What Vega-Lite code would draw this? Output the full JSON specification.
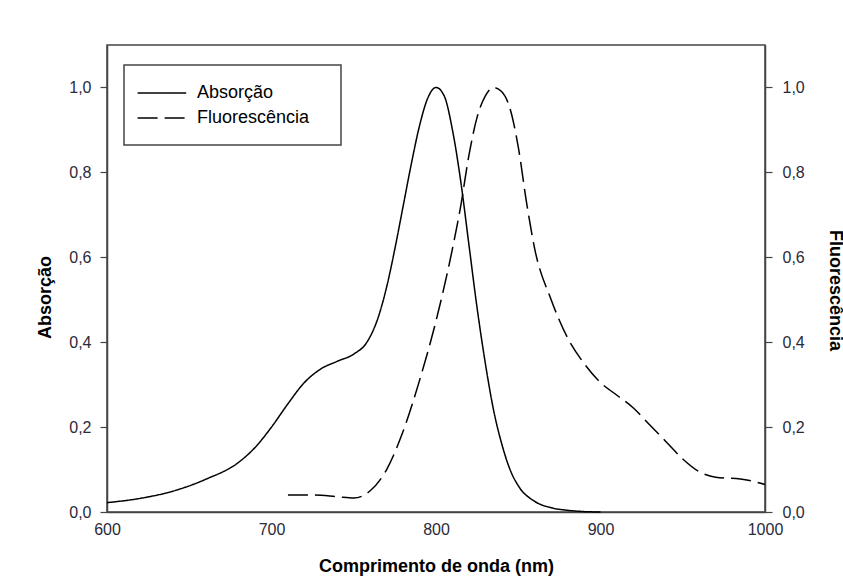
{
  "$schema": "https://vega.github.io/schema/vega-lite/v6.json",
  "autosize": {"type": "none"},
  "padding": {"left": 107, "top": 45, "right": 78, "bottom": 66},
  "width": 658,
  "height": 467,
  "background": "white",
  "config": {
    "font": "Liberation Sans",
    "view": {"stroke": "#444", "strokeWidth": 1.5},
    "axis": {
      "grid": false,
      "domainColor": "#444",
      "domainWidth": 1.5,
      "tickColor": "#444",
      "tickWidth": 1.2,
      "tickSize": 7,
      "labelFont": "Liberation Sans",
      "labelFontSize": 16,
      "labelColor": "#2a2a3a",
      "labelFlush": false,
      "titleFont": "Liberation Sans",
      "titleFontSize": 18,
      "titleFontWeight": "bold",
      "titleColor": "#000"
    },
    "legend": {
      "orient": "none",
      "legendX": 17,
      "legendY": 20,
      "strokeColor": "#444",
      "strokeWidth": 1.5,
      "padding": 18,
      "symbolType": "M-1.6,0H3.8",
      "symbolSize": 324,
      "symbolStrokeWidth": 1.5,
      "symbolStrokeColor": "#000",
      "symbolFillColor": "transparent",
      "labelFont": "Liberation Sans",
      "labelFontSize": 18,
      "labelColor": "#000",
      "labelOffset": 35,
      "rowPadding": 6,
      "titleOrient": "right",
      "titlePadding": 14,
      "titleFontSize": 2
    }
  },
  "datasets": {
    "abs": [
      {"nm": 600, "v": 0.022, "series": "Absorção"},
      {"nm": 620, "v": 0.032, "series": "Absorção"},
      {"nm": 640, "v": 0.049, "series": "Absorção"},
      {"nm": 660, "v": 0.077, "series": "Absorção"},
      {"nm": 680, "v": 0.117, "series": "Absorção"},
      {"nm": 690, "v": 0.152, "series": "Absorção"},
      {"nm": 700, "v": 0.2, "series": "Absorção"},
      {"nm": 710, "v": 0.255, "series": "Absorção"},
      {"nm": 720, "v": 0.305, "series": "Absorção"},
      {"nm": 730, "v": 0.337, "series": "Absorção"},
      {"nm": 740, "v": 0.355, "series": "Absorção"},
      {"nm": 750, "v": 0.372, "series": "Absorção"},
      {"nm": 758, "v": 0.4, "series": "Absorção"},
      {"nm": 765, "v": 0.46, "series": "Absorção"},
      {"nm": 770, "v": 0.53, "series": "Absorção"},
      {"nm": 775, "v": 0.62, "series": "Absorção"},
      {"nm": 780, "v": 0.72, "series": "Absorção"},
      {"nm": 785, "v": 0.82, "series": "Absorção"},
      {"nm": 790, "v": 0.91, "series": "Absorção"},
      {"nm": 795, "v": 0.975, "series": "Absorção"},
      {"nm": 800, "v": 1.0, "series": "Absorção"},
      {"nm": 805, "v": 0.98, "series": "Absorção"},
      {"nm": 810, "v": 0.9, "series": "Absorção"},
      {"nm": 815, "v": 0.78, "series": "Absorção"},
      {"nm": 820, "v": 0.63, "series": "Absorção"},
      {"nm": 825, "v": 0.48, "series": "Absorção"},
      {"nm": 830, "v": 0.35, "series": "Absorção"},
      {"nm": 835, "v": 0.24, "series": "Absorção"},
      {"nm": 840, "v": 0.16, "series": "Absorção"},
      {"nm": 845, "v": 0.1, "series": "Absorção"},
      {"nm": 850, "v": 0.062, "series": "Absorção"},
      {"nm": 860, "v": 0.025, "series": "Absorção"},
      {"nm": 870, "v": 0.01, "series": "Absorção"},
      {"nm": 880, "v": 0.004, "series": "Absorção"},
      {"nm": 890, "v": 0.001, "series": "Absorção"},
      {"nm": 900, "v": 0.0, "series": "Absorção"}
    ],
    "flu": [
      {"nm": 710, "v": 0.04, "series": "Fluorescência"},
      {"nm": 725, "v": 0.04, "series": "Fluorescência"},
      {"nm": 740, "v": 0.036, "series": "Fluorescência"},
      {"nm": 750, "v": 0.033, "series": "Fluorescência"},
      {"nm": 760, "v": 0.05, "series": "Fluorescência"},
      {"nm": 770, "v": 0.1, "series": "Fluorescência"},
      {"nm": 780, "v": 0.19, "series": "Fluorescência"},
      {"nm": 790, "v": 0.31, "series": "Fluorescência"},
      {"nm": 800, "v": 0.45, "series": "Fluorescência"},
      {"nm": 810, "v": 0.62, "series": "Fluorescência"},
      {"nm": 815, "v": 0.72, "series": "Fluorescência"},
      {"nm": 820, "v": 0.84, "series": "Fluorescência"},
      {"nm": 825, "v": 0.93, "series": "Fluorescência"},
      {"nm": 830, "v": 0.98, "series": "Fluorescência"},
      {"nm": 835, "v": 1.0, "series": "Fluorescência"},
      {"nm": 840, "v": 0.99, "series": "Fluorescência"},
      {"nm": 845, "v": 0.95, "series": "Fluorescência"},
      {"nm": 850, "v": 0.86, "series": "Fluorescência"},
      {"nm": 855, "v": 0.73, "series": "Fluorescência"},
      {"nm": 860, "v": 0.62, "series": "Fluorescência"},
      {"nm": 870, "v": 0.5, "series": "Fluorescência"},
      {"nm": 880, "v": 0.41, "series": "Fluorescência"},
      {"nm": 890, "v": 0.35, "series": "Fluorescência"},
      {"nm": 900, "v": 0.305, "series": "Fluorescência"},
      {"nm": 910, "v": 0.275, "series": "Fluorescência"},
      {"nm": 920, "v": 0.245, "series": "Fluorescência"},
      {"nm": 930, "v": 0.205, "series": "Fluorescência"},
      {"nm": 940, "v": 0.165, "series": "Fluorescência"},
      {"nm": 950, "v": 0.125, "series": "Fluorescência"},
      {"nm": 960, "v": 0.095, "series": "Fluorescência"},
      {"nm": 970, "v": 0.082, "series": "Fluorescência"},
      {"nm": 985, "v": 0.078, "series": "Fluorescência"},
      {"nm": 1000, "v": 0.065, "series": "Fluorescência"}
    ]
  },
  "layer": [
    {
      "data": {"name": "abs"},
      "mark": {"type": "line", "color": "#000", "strokeWidth": 1.5, "interpolate": "monotone"},
      "encoding": {
        "x": {"field": "nm", "type": "quantitative", "scale": {"domain": [600, 1000]},
          "axis": {"title": "Comprimento de onda (nm)", "values": [600, 700, 800, 900, 1000], "format": "d", "ticks": false, "labelPadding": 9, "titlePadding": 20}},
        "y": {"field": "v", "type": "quantitative", "scale": {"domain": [0, 1.1]},
          "axis": {"title": "Absorção", "orient": "left", "values": [0, 0.2, 0.4, 0.6, 0.8, 1.0], "labelExpr": "replace(format(datum.value, '.1f'), '.', ',')", "labelPadding": 9, "titleX": -53, "titleY": 252}},
        "strokeDash": {"field": "series", "type": "nominal", "scale": {"domain": ["Absorção", "Fluorescência"], "range": [[1, 0], [20, 7]]},
          "legend": {"title": "\u00a0"}}
      }
    },
    {
      "data": {"name": "flu"},
      "mark": {"type": "line", "color": "#000", "strokeWidth": 1.5, "interpolate": "monotone"},
      "encoding": {
        "x": {"field": "nm", "type": "quantitative"},
        "y": {"field": "v", "type": "quantitative", "scale": {"domain": [0, 1.1]},
          "axis": {"title": "Fluorescência", "orient": "right", "values": [0, 0.2, 0.4, 0.6, 0.8, 1.0], "labelExpr": "replace(format(datum.value, '.1f'), '.', ',')", "labelPadding": 10, "titleX": 60, "titleY": 245}},
        "strokeDash": {"field": "series", "type": "nominal"}
      }
    }
  ],
  "resolve": {"scale": {"y": "independent"}}
}
